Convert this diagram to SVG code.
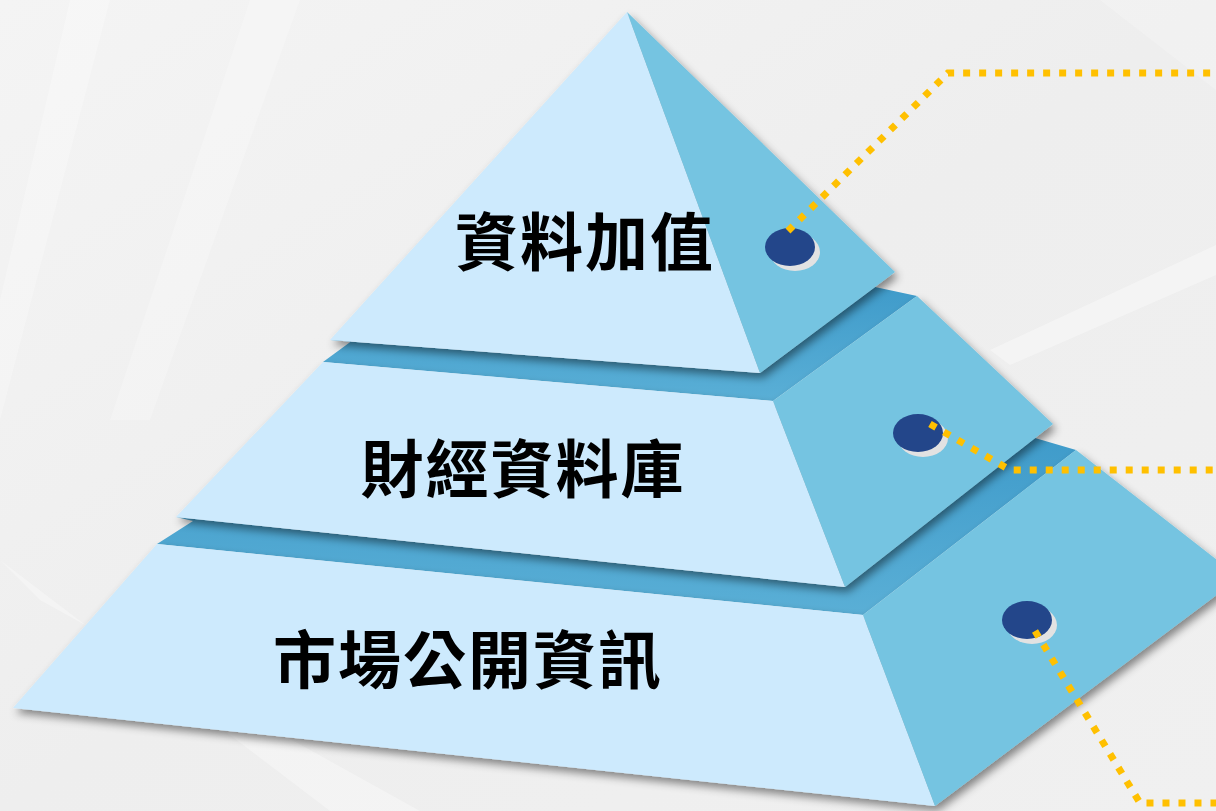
<svg xmlns="http://www.w3.org/2000/svg" width="1216" height="811" viewBox="0 0 1216 811">
<defs>
<linearGradient id="bg" x1="0" y1="0" x2="1" y2="1">
<stop offset="0" stop-color="#f4f4f4"/><stop offset="0.5" stop-color="#eeeeee"/><stop offset="1" stop-color="#f0f0f0"/>
</linearGradient>
<linearGradient id="band" x1="0" y1="0" x2="0" y2="1">
<stop offset="0" stop-color="#3f9bca"/><stop offset="1" stop-color="#5aafd6"/>
</linearGradient>
<filter id="sh" x="-10%" y="-10%" width="130%" height="130%">
<feDropShadow dx="3" dy="5" stdDeviation="4" flood-color="#000" flood-opacity="0.45"/>
</filter>
</defs>
<style>
.front{fill:#cdeafd}
.side{fill:#74c4e1}
.band{fill:url(#band)}
.dot{fill:#23468a}
.dotsh{fill:#e2e2e2}
.lbl{font-family:"Noto Sans CJK TC","Noto Sans CJK SC",sans-serif;font-weight:700;font-size:63px;fill:#000;letter-spacing:2px}
.conn{fill:none;stroke:#ffc000;stroke-width:7;stroke-dasharray:7 9}
</style>
<rect width="1216" height="811" fill="url(#bg)"/>
<g id="background" fill="#ffffff">
<polygon points="70,0 110,0 0,420 0,300" opacity="0.25"/>
<polygon points="250,0 300,0 150,420 110,420" opacity="0.22"/>
<polygon points="0,560 40,600 420,811 330,811" opacity="0.3"/>
<polygon points="990,350 1216,245 1216,275 1010,365" opacity="0.35"/>
<polygon points="1100,0 1216,0 1216,90" opacity="0.2"/>
</g>
<g id="tier-bottom">
<polygon class="band" points="193,521 157,544 863,615 1076,450 1035,438 845,587 176,517"/>
<g filter="url(#sh)">
<polygon class="front" points="157,544 863,615 935,806 13,708"/>
<polygon class="side" points="863,615 1076,450 1230,570 1230,585 935,806"/>
</g>
<ellipse class="dotsh" cx="1032" cy="625" rx="25" ry="19"/>
<ellipse class="dot" cx="1027" cy="620" rx="25" ry="19"/>
<text class="lbl" x="468" y="683" text-anchor="middle">市場公開資訊</text>
</g>
<g id="tier-middle">
<polygon class="band" points="353,340 323,362 773,401 917,296 875,287 760,373 330,340"/>
<g filter="url(#sh)">
<polygon class="front" points="323,362 773,401 845,587 176,517"/>
<polygon class="side" points="773,401 917,296 1053,424 845,587"/>
</g>
<ellipse class="dotsh" cx="923" cy="438" rx="25" ry="19"/>
<ellipse class="dot" cx="918" cy="433" rx="25" ry="19"/>
<text class="lbl" x="523" y="492" text-anchor="middle">財經資料庫</text>
</g>
<g id="tier-top">
<g filter="url(#sh)">
<polygon class="front" points="627,12 760,373 330,340"/>
<polygon class="side" points="627,12 895,272 760,373"/>
</g>
<ellipse class="dotsh" cx="795" cy="252" rx="25" ry="19"/>
<ellipse class="dot" cx="790" cy="247" rx="25" ry="19"/>
<text class="lbl" x="585" y="265" text-anchor="middle">資料加值</text>
</g>
<g id="connectors">
<polyline class="conn" points="788,231 948,73 1216,73"/>
<polyline class="conn" points="930,424 1010,470 1216,470"/>
<polyline class="conn" points="1035,631 1140,803 1216,803"/>
</g>
</svg>
